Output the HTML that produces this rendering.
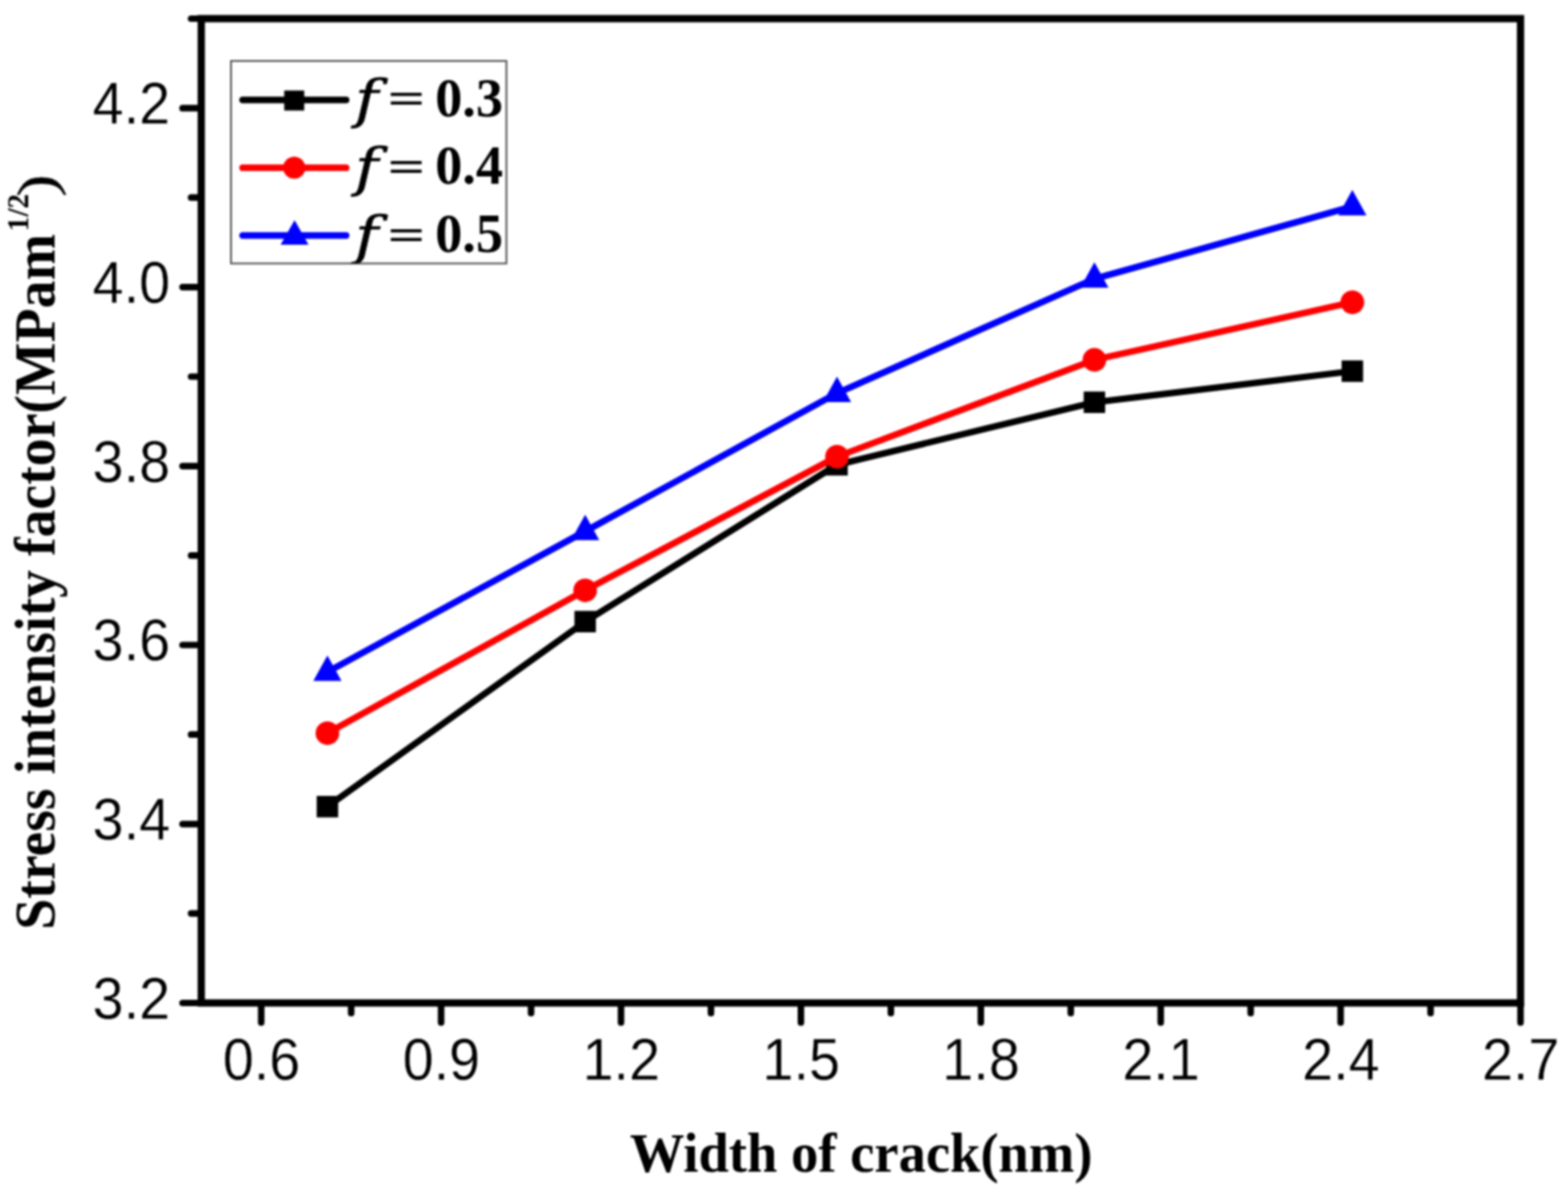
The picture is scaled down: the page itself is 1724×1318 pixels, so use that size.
<!DOCTYPE html>
<html lang="en"><head><meta charset="utf-8"><title>Stress intensity factor vs width of crack</title>
<style>
html,body{margin:0;padding:0;background:#fff;}
body{width:1724px;height:1318px;overflow:hidden;}
svg{display:block;}
text{fill:#000;}
</style></head><body>
<svg width="1724" height="1318" viewBox="0 0 1724 1318">
<defs><filter id="soft" x="0" y="0" width="100%" height="100%" filterUnits="userSpaceOnUse" color-interpolation-filters="sRGB"><feGaussianBlur stdDeviation="1"/></filter></defs>
<g filter="url(#soft)">
<rect width="1724" height="1318" fill="#fff"/>
<g id="series">
<polyline points="360.0,886.7 643.4,683.3 920.3,510.9 1203.3,442.2 1486.9,408.0" fill="none" stroke="#000" stroke-width="7.2" stroke-linejoin="round" stroke-linecap="round"/>
<rect x="348.2" y="874.9" width="23.6" height="23.6" fill="#000"/>
<rect x="631.6" y="671.5" width="23.6" height="23.6" fill="#000"/>
<rect x="908.5" y="499.1" width="23.6" height="23.6" fill="#000"/>
<rect x="1191.5" y="430.4" width="23.6" height="23.6" fill="#000"/>
<rect x="1475.1" y="396.2" width="23.6" height="23.6" fill="#000"/>
<polyline points="360.0,805.9 643.4,648.9 920.3,502.0 1203.3,395.6 1486.9,332.2" fill="none" stroke="#f00" stroke-width="7.2" stroke-linejoin="round" stroke-linecap="round"/>
<circle cx="360.0" cy="805.9" r="13.0" fill="#f00"/>
<circle cx="643.4" cy="648.9" r="13.0" fill="#f00"/>
<circle cx="920.3" cy="502.0" r="13.0" fill="#f00"/>
<circle cx="1203.3" cy="395.6" r="13.0" fill="#f00"/>
<circle cx="1486.9" cy="332.2" r="13.0" fill="#f00"/>
<polyline points="360.0,738.6 643.4,584.0 920.3,432.2 1203.3,306.5 1486.9,227.0" fill="none" stroke="#00f" stroke-width="7.2" stroke-linejoin="round" stroke-linecap="round"/>
<polygon points="360.0,720.4 375.5,748.4 344.5,748.4" fill="#00f"/>
<polygon points="643.4,565.8 658.9,593.8 627.9,593.8" fill="#00f"/>
<polygon points="920.3,414.0 935.8,442.0 904.8,442.0" fill="#00f"/>
<polygon points="1203.3,288.3 1218.8,316.3 1187.8,316.3" fill="#00f"/>
<polygon points="1486.9,208.8 1502.4,236.8 1471.4,236.8" fill="#00f"/>
</g>
<g id="axes" stroke="#000" stroke-width="8.0" stroke-linecap="round" fill="none">
<rect x="221.3" y="20.5" width="1450.5" height="1082.0" stroke-linejoin="miter"/>
</g>
<g id="ticks" stroke="#000" stroke-width="7.2" stroke-linecap="round" fill="none">
<line x1="200.7" y1="1102.5" x2="221.3" y2="1102.5"/>
<line x1="210.1" y1="1004.1" x2="221.3" y2="1004.1"/>
<line x1="200.7" y1="905.8" x2="221.3" y2="905.8"/>
<line x1="210.1" y1="807.4" x2="221.3" y2="807.4"/>
<line x1="200.7" y1="709.0" x2="221.3" y2="709.0"/>
<line x1="210.1" y1="610.7" x2="221.3" y2="610.7"/>
<line x1="200.7" y1="512.3" x2="221.3" y2="512.3"/>
<line x1="210.1" y1="414.0" x2="221.3" y2="414.0"/>
<line x1="200.7" y1="315.6" x2="221.3" y2="315.6"/>
<line x1="210.1" y1="217.2" x2="221.3" y2="217.2"/>
<line x1="200.7" y1="118.9" x2="221.3" y2="118.9"/>
<line x1="210.1" y1="20.5" x2="221.3" y2="20.5"/>
<line x1="287.2" y1="1102.5" x2="287.2" y2="1123.9"/>
<line x1="386.1" y1="1102.5" x2="386.1" y2="1113.7"/>
<line x1="485.0" y1="1102.5" x2="485.0" y2="1123.9"/>
<line x1="583.9" y1="1102.5" x2="583.9" y2="1113.7"/>
<line x1="682.8" y1="1102.5" x2="682.8" y2="1123.9"/>
<line x1="781.7" y1="1102.5" x2="781.7" y2="1113.7"/>
<line x1="880.6" y1="1102.5" x2="880.6" y2="1123.9"/>
<line x1="979.5" y1="1102.5" x2="979.5" y2="1113.7"/>
<line x1="1078.4" y1="1102.5" x2="1078.4" y2="1123.9"/>
<line x1="1177.3" y1="1102.5" x2="1177.3" y2="1113.7"/>
<line x1="1276.2" y1="1102.5" x2="1276.2" y2="1123.9"/>
<line x1="1375.1" y1="1102.5" x2="1375.1" y2="1113.7"/>
<line x1="1474.0" y1="1102.5" x2="1474.0" y2="1123.9"/>
<line x1="1572.9" y1="1102.5" x2="1572.9" y2="1113.7"/>
<line x1="1671.8" y1="1102.5" x2="1671.8" y2="1123.9"/>
</g>
<g id="ticklabels">
<text transform="translate(187.00,1119.90) scale(0.957,1)" font-family="Liberation Sans, Arial, sans-serif" stroke="#fff" stroke-width="0.3" font-size="64.0" text-anchor="end">3.2</text>
<text transform="translate(187.00,923.17) scale(0.957,1)" font-family="Liberation Sans, Arial, sans-serif" stroke="#fff" stroke-width="0.3" font-size="64.0" text-anchor="end">3.4</text>
<text transform="translate(187.00,726.45) scale(0.957,1)" font-family="Liberation Sans, Arial, sans-serif" stroke="#fff" stroke-width="0.3" font-size="64.0" text-anchor="end">3.6</text>
<text transform="translate(187.00,529.72) scale(0.957,1)" font-family="Liberation Sans, Arial, sans-serif" stroke="#fff" stroke-width="0.3" font-size="64.0" text-anchor="end">3.8</text>
<text transform="translate(187.00,332.99) scale(0.957,1)" font-family="Liberation Sans, Arial, sans-serif" stroke="#fff" stroke-width="0.3" font-size="64.0" text-anchor="end">4.0</text>
<text transform="translate(187.00,136.26) scale(0.957,1)" font-family="Liberation Sans, Arial, sans-serif" stroke="#fff" stroke-width="0.3" font-size="64.0" text-anchor="end">4.2</text>
<text transform="translate(287.53,1186.70) scale(0.94,1)" font-family="Liberation Sans, Arial, sans-serif" stroke="#fff" stroke-width="0.3" font-size="65.2" text-anchor="middle">0.6</text>
<text transform="translate(485.33,1186.70) scale(0.94,1)" font-family="Liberation Sans, Arial, sans-serif" stroke="#fff" stroke-width="0.3" font-size="65.2" text-anchor="middle">0.9</text>
<text transform="translate(683.12,1186.70) scale(0.94,1)" font-family="Liberation Sans, Arial, sans-serif" stroke="#fff" stroke-width="0.3" font-size="65.2" text-anchor="middle">1.2</text>
<text transform="translate(880.92,1186.70) scale(0.94,1)" font-family="Liberation Sans, Arial, sans-serif" stroke="#fff" stroke-width="0.3" font-size="65.2" text-anchor="middle">1.5</text>
<text transform="translate(1078.71,1186.70) scale(0.94,1)" font-family="Liberation Sans, Arial, sans-serif" stroke="#fff" stroke-width="0.3" font-size="65.2" text-anchor="middle">1.8</text>
<text transform="translate(1276.51,1186.70) scale(0.94,1)" font-family="Liberation Sans, Arial, sans-serif" stroke="#fff" stroke-width="0.3" font-size="65.2" text-anchor="middle">2.1</text>
<text transform="translate(1474.30,1186.70) scale(0.94,1)" font-family="Liberation Sans, Arial, sans-serif" stroke="#fff" stroke-width="0.3" font-size="65.2" text-anchor="middle">2.4</text>
<text transform="translate(1672.10,1186.70) scale(0.94,1)" font-family="Liberation Sans, Arial, sans-serif" stroke="#fff" stroke-width="0.3" font-size="65.2" text-anchor="middle">2.7</text>
</g>
<g id="titles">
<text transform="translate(946.80,1287.60) scale(1,1.03)" font-family="Liberation Serif, Times New Roman, serif" font-weight="bold" font-size="60" text-anchor="middle">Width of crack(nm)</text>
<text transform="translate(60.00,1022.10) rotate(-90) scale(1,1.05)" font-family="Liberation Serif, Times New Roman, serif" font-weight="bold" font-size="61.3" text-anchor="start">Stress intensity factor(MPam</text>
<text transform="translate(31.40,254.20) rotate(-90) scale(0.96,1)" font-family="Liberation Serif, Times New Roman, serif" font-weight="bold" font-size="33.5" text-anchor="start">1/2</text>
<text transform="translate(60.00,216.40) rotate(-90) scale(1.22,0.98)" font-family="Liberation Serif, Times New Roman, serif" stroke="#000" stroke-width="0.3" font-size="61.3" text-anchor="start">)</text>
</g>
<g id="legend">
<rect x="254" y="67" width="302.8" height="222.6" fill="#fff" stroke="#555" stroke-width="2"/>
<clipPath id="lc"><rect x="254" y="67" width="302.8" height="222.6"/></clipPath>
<g clip-path="url(#lc)">
<line x1="266.7" y1="109.8" x2="380.6" y2="109.8" stroke="#000" stroke-width="7.2" stroke-linecap="round"/>
<rect x="312.5" y="99.5" width="22" height="22" fill="#000"/>
<text transform="translate(390.30,128.70) scale(1.2,1)" font-family="DejaVu Serif, Liberation Serif, serif" font-style="italic" stroke="#000" stroke-width="0.6" font-size="58" text-anchor="start">f</text>
<text transform="translate(425.95,123.70) scale(1.187,0.78)" font-family="Liberation Serif, Times New Roman, serif" font-weight="bold" font-size="61.5" text-anchor="start">=</text>
<text transform="translate(478.40,127.50) scale(0.971,1)" font-family="Liberation Serif, Times New Roman, serif" font-weight="bold" font-size="61.5" text-anchor="start">0.3</text>
<line x1="266.7" y1="184.4" x2="380.6" y2="184.4" stroke="#f00" stroke-width="7.2" stroke-linecap="round"/>
<circle cx="323.5" cy="184.4" r="12.2" fill="#f00"/>
<text transform="translate(390.30,203.60) scale(1.2,1)" font-family="DejaVu Serif, Liberation Serif, serif" font-style="italic" stroke="#000" stroke-width="0.6" font-size="58" text-anchor="start">f</text>
<text transform="translate(425.95,198.60) scale(1.187,0.78)" font-family="Liberation Serif, Times New Roman, serif" font-weight="bold" font-size="61.5" text-anchor="start">=</text>
<text transform="translate(478.40,202.40) scale(0.971,1)" font-family="Liberation Serif, Times New Roman, serif" font-weight="bold" font-size="61.5" text-anchor="start">0.4</text>
<line x1="266.7" y1="258.8" x2="380.6" y2="258.8" stroke="#00f" stroke-width="7.2" stroke-linecap="round"/>
<polygon points="323.9,242.0 339.2,269.0 308.5,269.0" fill="#00f"/>
<text transform="translate(390.30,278.50) scale(1.2,1)" font-family="DejaVu Serif, Liberation Serif, serif" font-style="italic" stroke="#000" stroke-width="0.6" font-size="58" text-anchor="start">f</text>
<text transform="translate(425.95,273.50) scale(1.187,0.78)" font-family="Liberation Serif, Times New Roman, serif" font-weight="bold" font-size="61.5" text-anchor="start">=</text>
<text transform="translate(478.40,277.30) scale(0.971,1)" font-family="Liberation Serif, Times New Roman, serif" font-weight="bold" font-size="61.5" text-anchor="start">0.5</text>
</g>
</g>
</g>
</svg></body></html>
